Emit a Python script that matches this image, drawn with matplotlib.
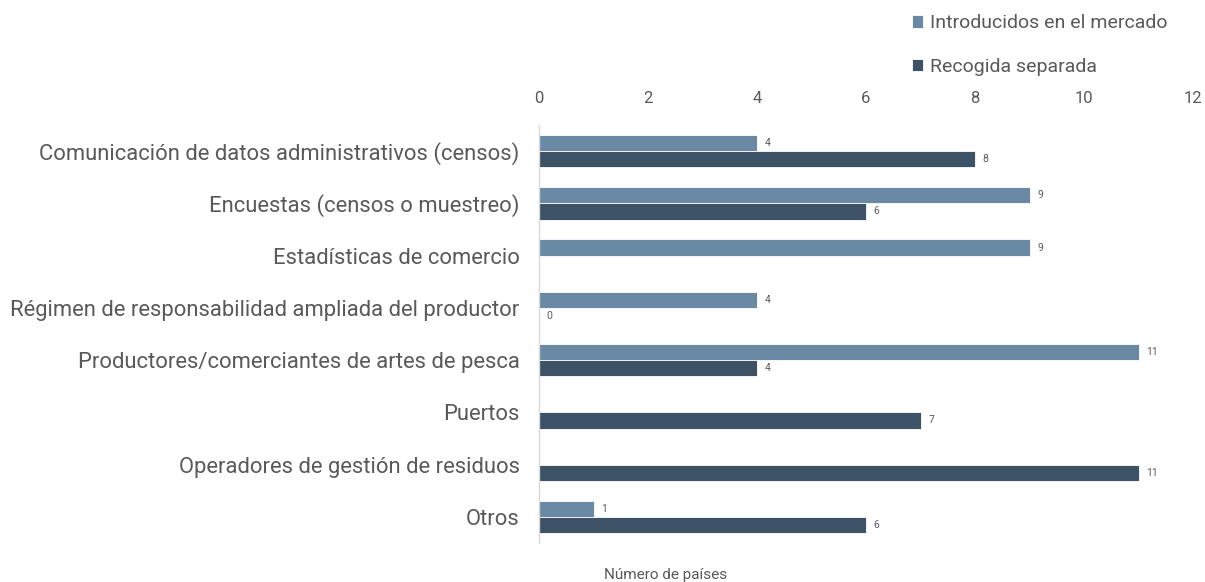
import matplotlib
matplotlib.use("Agg")
import matplotlib.pyplot as plt
import numpy as np

categories = [
    "Comunicación de datos administrativos (censos)",
    "Encuestas (censos o muestreo)",
    "Estadísticas de comercio",
    "Régimen de responsabilidad ampliada del productor",
    "Productores/comerciantes de artes de pesca",
    "Puertos",
    "Operadores de gestión de residuos",
    "Otros",
]
introducidos = [4, 9, 9, 4, 11, None, None, 1]
recogida = [8, 6, None, 0, 4, 7, 11, 6]
series_names = ["Introducidos en el mercado", "Recogida separada"]
xticks = [0, 2, 4, 6, 8, 10, 12]

c_light = "#6a89a5"
c_dark = "#3e5266"
txt = "#595959"
font = "Roboto"

fig = plt.figure(figsize=(12.05, 5.82), dpi=100)
ax = fig.add_axes([539/1205, 1-543/582, (1193-539)/1205, (543-125)/582])

y = np.arange(len(categories))
h = 0.31
for vals, off, col, name in [(introducidos, -h/2, c_light, series_names[0]),
                             (recogida, h/2, c_dark, series_names[1])]:
    for i, v in enumerate(vals):
        if v is None:
            continue
        ax.barh(y[i] + off, v, height=h, color=col, edgecolor="white", linewidth=0.6,
                label=name if i == 0 else None)
        ax.text(v + 0.14, y[i] + off, str(v), va="center", ha="left",
                fontsize=7.5, color=txt, family=font)

ax.set_ylim(len(categories) - 0.5, -0.5)
ax.set_xlim(0, 12)
ax.set_yticks(y)
ax.set_yticklabels(categories, fontsize=15.8, color=txt, family=font)
ax.set_xticks(xticks)
ax.set_xticklabels([str(t) for t in xticks], fontsize=12, color=txt, family=font)
ax.xaxis.tick_top()
ax.tick_params(axis="both", length=0)
ax.tick_params(axis="x", pad=14)
ax.tick_params(axis="y", pad=14)
for s in ["top", "right", "bottom"]:
    ax.spines[s].set_visible(False)
ax.spines["left"].set_color("#d9d9d9")
ax.spines["left"].set_linewidth(1)

handles, labels = ax.get_legend_handles_labels()
leg = fig.legend(handles, labels, loc="upper left", bbox_to_anchor=(894/1205, 1+3/582),
                 frameon=False, handlelength=0.6, handleheight=0.6,
                 handletextpad=0.35, labelspacing=1.3, prop={"family": font, "size": 14})
for t in leg.get_texts():
    t.set_color(txt)

fig.text(666/1205, 1-575/582, "Número de países", ha="center", va="center",
         fontsize=11, color=txt, family=font)

fig.savefig("out.png", dpi=100, facecolor="white")
